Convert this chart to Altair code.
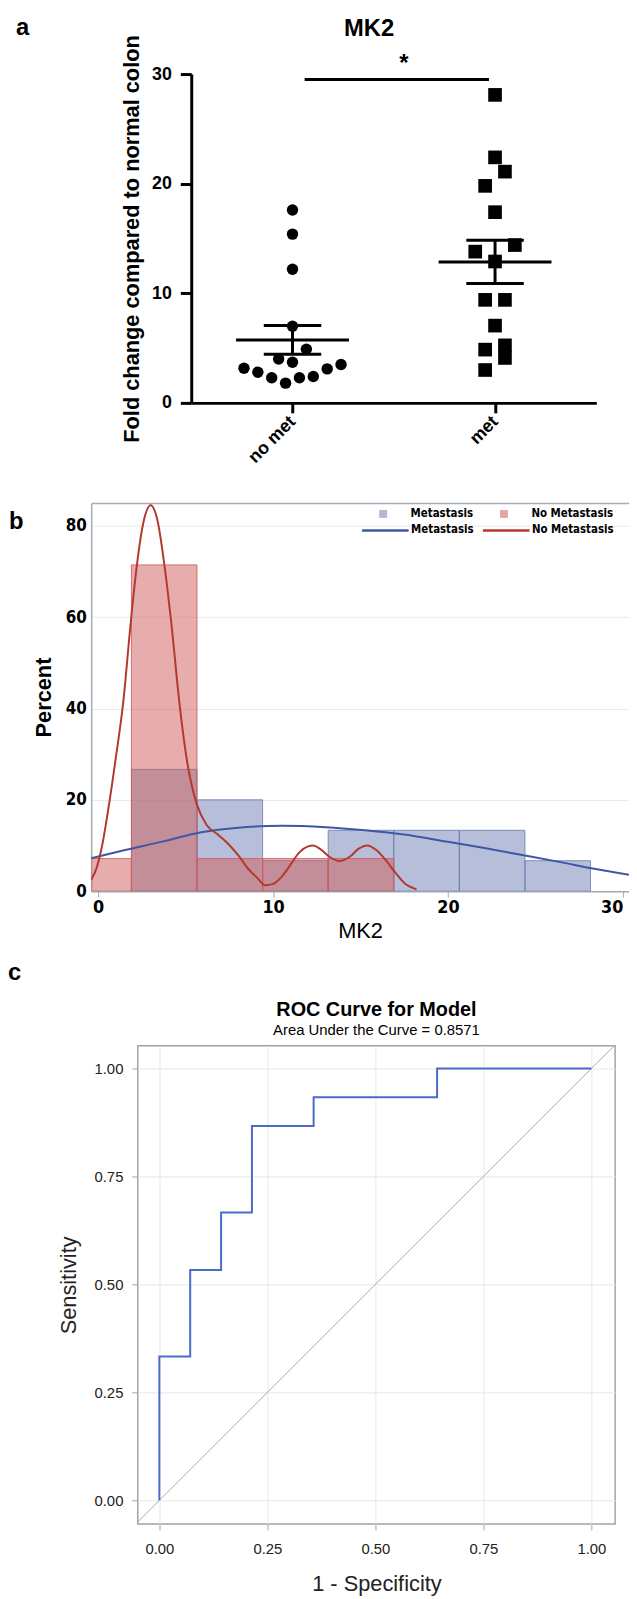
import altair as alt
import pandas as pd
import numpy as np

# ---------------- panel a data ----------------
groups = ["no met", "met"]
no_met_vals = [17.6, 15.4, 12.2, 7.0, 4.9, 4.0, 3.7, 3.5, 3.16, 3.1, 2.8, 2.4, 2.3, 2.3, 1.8]
met_vals = [28.1, 22.4, 21.1, 19.8, 17.4, 14.4, 13.8, 12.9, 9.4, 9.4, 7.05, 5.25, 4.86, 4.1, 3.0]
sig_bar_x = [0.06, 0.97]
sig_bar_y = [29.5]
sig_text = ["*"]
sig_text_x = [0.55]
sig_text_y = [30.9]

# ---------------- panel b data ----------------
series = ["Metastasis", "No Metastasis"]
bin_edges = [-1.85, 1.9, 5.65, 9.4, 13.15, 16.9, 20.65, 24.4, 28.15]
pct_met = [0.0, 26.67, 20.0, 6.67, 13.33, 13.33, 13.33, 6.67]
pct_no_met = [7.14, 71.43, 7.14, 7.14, 7.14, 0.0, 0.0, 0.0]
dens_met_x = [-0.4, 1.3, 3.6, 5.9, 8.0, 10.5, 13.0, 15.1, 17.5, 20.0, 22.0, 24.4, 26.5, 28.2, 30.35]
dens_met_y = [7.2, 8.8, 10.8, 12.9, 13.9, 14.3, 14.0, 13.4, 12.4, 10.8, 9.5, 7.8, 6.3, 5.0, 3.6]
dens_no_met_x = [-0.4, -0.1, 0.2, 0.58, 1.0, 1.45, 1.84, 2.2, 2.6, 3.0, 3.4, 3.8, 4.2, 4.65, 5.1,
                 5.64, 6.2, 6.8, 7.4, 8.0, 8.6, 9.1, 9.55, 10.0, 10.5, 11.0, 11.5, 12.0, 12.3,
                 12.7, 13.2, 13.8, 14.4, 14.9, 15.4, 15.9, 16.5, 17.0, 17.5, 18.2]
dens_no_met_y = [2.5, 5.0, 9.5, 18.0, 29.0, 42.0, 58.0, 71.0, 81.0, 84.5, 81.0, 71.0, 58.0, 41.0, 28.0,
                 19.0, 14.5, 12.5, 10.5, 7.9, 4.8, 2.9, 1.3, 1.6, 3.2, 5.8, 8.5, 9.8, 10.0,
                 9.2, 7.6, 6.6, 7.6, 9.3, 10.0, 9.0, 6.5, 4.0, 1.8, 0.4]

# ---------------- panel c data ----------------
fpr = [0.0, 0.0, 0.0714, 0.1429, 0.2143, 0.3571, 0.6429, 1.0]
tpr = [0.0, 0.3333, 0.5333, 0.6667, 0.8667, 0.9333, 1.0, 1.0]
diag = [-0.1, 1.1]
roc_title = "ROC Curve for Model"
roc_subtitle = "Area Under the Curve = 0.8571"

# ---------------- styling ----------------
SANS = "Liberation Sans, Arial, Helvetica, sans-serif"
NARROW = "Liberation Sans Narrow, Arial Narrow, DejaVu Sans Condensed, Liberation Sans, sans-serif"
FRAME = "#a4abb2"
BLUE = "#6F7EB3"
RED = "#D05B5B"

W_A, H_A = 409, 332
W_B, H_B = 543, 392
W_C, H_C = 482, 483
S = 20


def swarm_offsets(values, bin_width, step):
    order = list(np.argsort(values, kind="stable"))
    vals = [values[i] for i in order]
    offs = [0.0] * len(values)
    i = 0
    while i < len(vals):
        j = i
        while j < len(vals) and vals[j] - vals[i] <= bin_width:
            j += 1
        n = j - i
        slots = sorted([k - (n - 1) / 2 for k in range(n)], key=lambda s: (abs(s), s))
        for k in range(n):
            offs[order[i + k]] = slots[k] * step
        i = j
    return offs


unit_px = W_A / 2.0
off_no = swarm_offsets(no_met_vals, 1.8, 14 / unit_px)
off_me = swarm_offsets(met_vals, 1.8, 20 / unit_px)
df_dots = pd.DataFrame({"value": no_met_vals, "x": [0 + o for o in off_no]})
df_sq = pd.DataFrame({"value": met_vals, "x": [1 + o for o in off_me]})

stats = []
for gi, vals in enumerate([no_met_vals, met_vals]):
    arr = np.array(vals)
    m = arr.mean()
    se = arr.std(ddof=1) / np.sqrt(len(arr))
    stats.append({"gi": gi, "mean": m, "lo": m - se, "hi": m + se})
df_stats = pd.DataFrame(stats)

xa_scale = alt.Scale(domain=[-0.5, 1.5], nice=False, zero=False)
ya_scale = alt.Scale(domain=[0, 30], nice=False)
xa_axis = alt.Axis(values=[0, 1], labelExpr="datum.value == 0 ? 'no met' : 'met'", title=None,
                   grid=False, domainColor="black", domainWidth=3, tickColor="black", tickWidth=3,
                   tickSize=10, labelAngle=315, labelAlign="right", labelBaseline="middle",
                   labelFont=SANS, labelFontWeight="bold", labelFontSize=18, labelColor="black",
                   labelPadding=6)
ya_axis = alt.Axis(values=[0, 10, 20, 30], title="Fold change compared to normal colon", grid=False,
                   domainColor="black", domainWidth=3, tickColor="black", tickWidth=3, tickSize=11,
                   labelFont=SANS, labelFontWeight="bold", labelFontSize=18, labelColor="black",
                   labelPadding=9, titleFont=SANS, titleFontWeight="bold", titleFontSize=22,
                   titleColor="black", titlePadding=8)

dots = alt.Chart(df_dots).mark_point(shape="circle", filled=True, size=133, color="black", opacity=1).encode(
    x=alt.X("x:Q", scale=xa_scale, axis=xa_axis),
    y=alt.Y("value:Q", scale=ya_scale, axis=ya_axis),
)
squares = alt.Chart(df_sq).mark_point(shape="square", filled=True, size=190, color="black", opacity=1).encode(
    x=alt.X("x:Q", scale=xa_scale, axis=xa_axis),
    y=alt.Y("value:Q", scale=ya_scale, axis=ya_axis),
)
mean_tick = alt.Chart(df_stats).mark_tick(orient="horizontal", size=114, thickness=3, color="black", opacity=1).encode(
    x=alt.X("gi:Q", scale=xa_scale, axis=xa_axis),
    y=alt.Y("mean:Q", scale=ya_scale, axis=ya_axis),
)
cap_tick = alt.Chart(df_stats).transform_fold(["lo", "hi"], as_=["k", "v"]).mark_tick(
    orient="horizontal", size=58, thickness=3, color="black", opacity=1).encode(
    x=alt.X("gi:Q", scale=xa_scale, axis=xa_axis),
    y=alt.Y("v:Q", scale=ya_scale, axis=ya_axis),
)
sem_rule = alt.Chart(df_stats).mark_rule(strokeWidth=3, color="black").encode(
    x=alt.X("gi:Q", scale=xa_scale, axis=xa_axis),
    y=alt.Y("lo:Q", scale=ya_scale, axis=ya_axis),
    y2="hi:Q",
)
df_sig = pd.DataFrame({"x": [sig_bar_x[0]], "x2": [sig_bar_x[1]], "y": sig_bar_y})
sig_rule = alt.Chart(df_sig).mark_rule(strokeWidth=3, color="black").encode(
    x=alt.X("x:Q", scale=xa_scale, axis=xa_axis), x2="x2:Q",
    y=alt.Y("y:Q", scale=ya_scale, axis=ya_axis),
)
df_star = pd.DataFrame({"x": sig_text_x, "y": sig_text_y, "t": sig_text})
star = alt.Chart(df_star).mark_text(fontSize=24, fontWeight="bold", font=SANS, color="black", baseline="middle").encode(
    x=alt.X("x:Q", scale=xa_scale, axis=xa_axis),
    y=alt.Y("y:Q", scale=ya_scale, axis=ya_axis),
    text="t:N",
)
panel_a = alt.layer(dots, squares, sem_rule, mean_tick, cap_tick, sig_rule, star).properties(
    width=W_A, height=H_A,
    title=alt.TitleParams("MK2", font=SANS, fontSize=24, fontWeight="bold", color="black",
                          anchor="middle", dx=-25, offset=-7),
)

spacer_df = pd.DataFrame({"v": [0]})


def spacer(w, h, letter, dx, offset):
    return alt.Chart(spacer_df).mark_point(opacity=0, size=1).encode(
        x=alt.value(0), y=alt.value(0)
    ).properties(
        width=w, height=h,
        title=alt.TitleParams(letter, anchor="start", frame="group", dx=dx, offset=offset,
                              font=SANS, fontSize=24, fontWeight="bold", color="black",
                              baseline="alphabetic"),
    )


row_a = alt.hconcat(spacer(101, 433 - S, "a", -76, 15), panel_a, spacing=0, bounds="flush")

# ---------------- panel b ----------------
rows = []
for s, pcts in zip(series, [pct_met, pct_no_met]):
    for k, p in enumerate(pcts):
        if p > 0:
            rows.append({"series": s, "start": bin_edges[k], "end": bin_edges[k + 1], "pct": p})
df_bars = pd.DataFrame(rows)
dens_rows = []
for s, xs, ys in [(series[0], dens_met_x, dens_met_y), (series[1], dens_no_met_x, dens_no_met_y)]:
    for i, (xv, yv) in enumerate(zip(xs, ys)):
        dens_rows.append({"curve": s + " ", "xv": xv, "yv": yv, "i": i})
df_dens = pd.DataFrame(dens_rows)

xb_scale = alt.Scale(domain=[-0.4, 30.35], nice=False, zero=False)
yb_scale = alt.Scale(domain=[0, 85], nice=False, zero=False)
xb_axis = alt.Axis(orient="bottom", values=[0, 10, 20, 30], format="d", title="MK2", grid=False,
                   domainColor=FRAME, domainWidth=1.5, tickColor=FRAME, tickSize=6, labelFont=NARROW,
                   labelFontWeight="bold", labelFontSize=18, labelColor="black", labelPadding=2,
                   labelFlush=6.6, titleFont=SANS, titleFontSize=22, titleFontWeight="normal",
                   titleColor="black", titlePadding=4)
xb_top = alt.Axis(orient="top", labels=False, ticks=False, grid=False, domainColor=FRAME,
                  domainWidth=1.5, title=None)
yb_axis = alt.Axis(values=[0, 20, 40, 60, 80], title="Percent", grid=True, gridColor="#e9e9e9",
                   domainColor=FRAME, domainWidth=1.5, ticks=False, labelFont=NARROW,
                   labelFontWeight="bold", labelFontSize=17, labelColor="black", labelPadding=5,
                   titleFont=SANS, titleFontSize=22, titleFontWeight="bold", titleColor="black",
                   titlePadding=10)
fill_scale = alt.Scale(domain=series, range=[BLUE, RED])
fill_legend = alt.Legend(orient="none", legendX=289, legendY=5, direction="horizontal", title=None,
                         symbolType="square", symbolSize=64, symbolOpacity=0.55, symbolStrokeWidth=0,
                         labelFont=NARROW, labelFontWeight="bold", labelFontSize=11.5, labelColor="black",
                         labelOffset=22, columnPadding=25, padding=0)


def bar_layer(s, color, with_x_axis):
    return alt.Chart(df_bars).transform_filter(alt.datum.series == s).mark_rect(
        fillOpacity=0.5, stroke=color, strokeWidth=1, strokeOpacity=0.85, clip=True
    ).encode(
        x=alt.X("start:Q", scale=xb_scale, axis=xb_axis if with_x_axis else None),
        x2="end:Q",
        y=alt.Y("pct:Q", scale=yb_scale, axis=yb_axis),
        y2=alt.datum(0),
        fill=alt.Fill("series:N", scale=fill_scale, legend=fill_legend),
    )


bars_b = bar_layer(series[0], BLUE, True)
bars_r = bar_layer(series[1], RED, False)
lines_b = alt.Chart(df_dens).mark_line(strokeWidth=2, interpolate="monotone", clip=True).encode(
    x=alt.X("xv:Q", scale=xb_scale, axis=xb_top),
    y=alt.Y("yv:Q", scale=yb_scale, axis=yb_axis),
    order="i:Q",
    stroke=alt.Stroke("curve:N", scale=alt.Scale(domain=[s + " " for s in series], range=["#3F57A5", "#B3392E"]),
                      legend=alt.Legend(orient="none", legendX=272, legendY=2.5, direction="horizontal",
                                        title=None, symbolType="stroke", symbolSize=2209,
                                        symbolStrokeWidth=2.5, labelExpr="trim(datum.label)",
                                        labelFont=NARROW, labelFontWeight="bold", labelFontSize=11.5,
                                        labelColor="black", labelOffset=1, columnPadding=3, padding=0)),
)
panel_b = alt.layer(bars_b, bars_r, lines_b).properties(
    width=W_B, height=H_B,
    title=alt.TitleParams("b", anchor="start", frame="group", dx=-83, dy=50, offset=0,
                          font=SANS, fontSize=24, fontWeight="bold", color="black", baseline="alphabetic"),
)

# ---------------- panel c ----------------
df_roc = pd.DataFrame({"fpr": fpr, "tpr": tpr, "i": list(range(len(fpr)))})
df_diag = pd.DataFrame({"a": diag, "b": diag})
xc_scale = alt.Scale(domain=[-0.05, 1.055], nice=False, zero=False)
yc_scale = alt.Scale(domain=[-0.055, 1.053], nice=False, zero=False)
common_c = dict(values=[0, 0.25, 0.5, 0.75, 1.0], format=".2f", domain=False, grid=True,
                gridColor="#e8e8e8", tickColor="#9ea4aa", tickSize=6, labelFont=SANS,
                labelFontSize=15, labelColor="#222222", titleFont=SANS, titleFontSize=22,
                titleFontWeight="normal", titleColor="#222222")
xc_axis = alt.Axis(title="1 - Specificity", labelPadding=12, titlePadding=17, **common_c)
yc_axis = alt.Axis(title="Sensitivity", labelPadding=9, titlePadding=14, **common_c)
diag_line = alt.Chart(df_diag).mark_line(color="#a9a9a9", strokeWidth=1, clip=True).encode(
    x=alt.X("a:Q", scale=xc_scale, axis=xc_axis),
    y=alt.Y("b:Q", scale=yc_scale, axis=yc_axis),
)
roc_line = alt.Chart(df_roc).mark_line(color="#4a6bc8", strokeWidth=2, interpolate="step-after").encode(
    x=alt.X("fpr:Q", scale=xc_scale, axis=xc_axis),
    y=alt.Y("tpr:Q", scale=yc_scale, axis=yc_axis),
    order="i:Q",
)
panel_c = alt.layer(diag_line, roc_line).properties(
    width=W_C, height=H_C,
    view=alt.ViewBackground(stroke="#9ea4aa", strokeWidth=1.5),
    title=alt.TitleParams(roc_title, subtitle=roc_subtitle, font=SANS, fontSize=20, fontWeight="bold",
                          color="black", subtitleFont=SANS, subtitleFontSize=15, subtitleColor="black",
                          anchor="middle", offset=8, subtitlePadding=3),
)
row_c = alt.hconcat(spacer(47, 1, "c", -84, 41.5), panel_c, spacing=0, bounds="flush")

chart = alt.vconcat(row_a, panel_b, row_c, spacing=S,
                    padding={"left": 0, "top": 0, "right": 0, "bottom": 0}
                    ).resolve_scale(fill="independent", stroke="independent"
                    ).resolve_legend(fill="independent", stroke="independent"
                    ).configure_view(stroke=None)

chart.save("out.html", embed_options={"renderer": "svg", "actions": False})
